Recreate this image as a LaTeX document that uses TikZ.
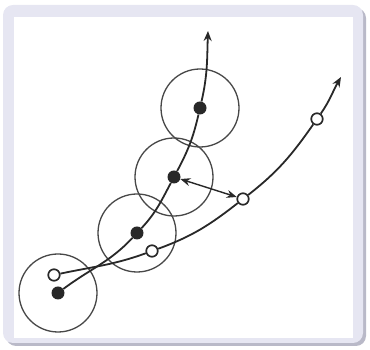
\documentclass[tikz,border=0pt]{standalone}
\usepackage{tikz}
\usetikzlibrary{arrows.meta}
\definecolor{framebg}{RGB}{230,230,242}
\definecolor{frameshadow}{RGB}{185,185,200}
\definecolor{ink}{RGB}{40,40,40}
\tikzset{
  fdot/.style={circle, fill=ink, inner sep=0pt, minimum size=13pt},
  odot/.style={circle, draw=ink, fill=white, line width=1.7pt, inner sep=0pt, minimum size=11.5pt},
  zone/.style={draw=ink!85, line width=1.3pt},
  track/.style={draw=ink, line width=1.8pt},
  tip/.style={-{Stealth[length=10pt,width=8pt]}}
}

\begin{document}
\begin{tikzpicture}[x=1pt,y=1pt]
      \useasboundingbox (0,0) rectangle (370,350);
      \fill [frameshadow, rounded corners=10pt] (6,4) rectangle (366,342);
      \fill [framebg, rounded corners=10pt] (3,7) rectangle (363,345);
      \fill [white] (14,12) rectangle (353,333);
      \draw [zone] (58,57) circle (39);
      \draw [zone] (137,117) circle (39);
      \draw [zone] (174,173) circle (39);
      \draw [zone] (200,242) circle (39);
      \node (F1) at (58,57) [fdot] {};
      \node (F2) at (137,117) [fdot] {};
      \node (F3) at (174,173) [fdot] {};
      \node (F4) at (200,242) [fdot] {};
      \coordinate (Ftip) at (208,319);
      \node (O1) at (54,75) [odot] {};
      \node (O2) at (152,99) [odot] {};
      \node (O3) at (243,151) [odot] {};
      \node (O4) at (317,231) [odot] {};
      \coordinate (Otip) at (341,273);
      \draw [track, tip] (F1) to [out=37,in=227] (F2) to [out=47,in=242] (F3) to [out=62,in=257] (F4) to [out=77,in=268] (Ftip);
      \draw [track, tip] (O1) to [out=12,in=200] (O2) to [out=20,in=218] (O3) to [out=38,in=235] (O4) to [out=55,in=240] (Otip);
      \draw [track, line width=1.4pt, {Stealth[length=10pt,width=8pt]}-{Stealth[length=10pt,width=8pt]}] (F3) -- (O3);
    \end{tikzpicture}
\end{document}
